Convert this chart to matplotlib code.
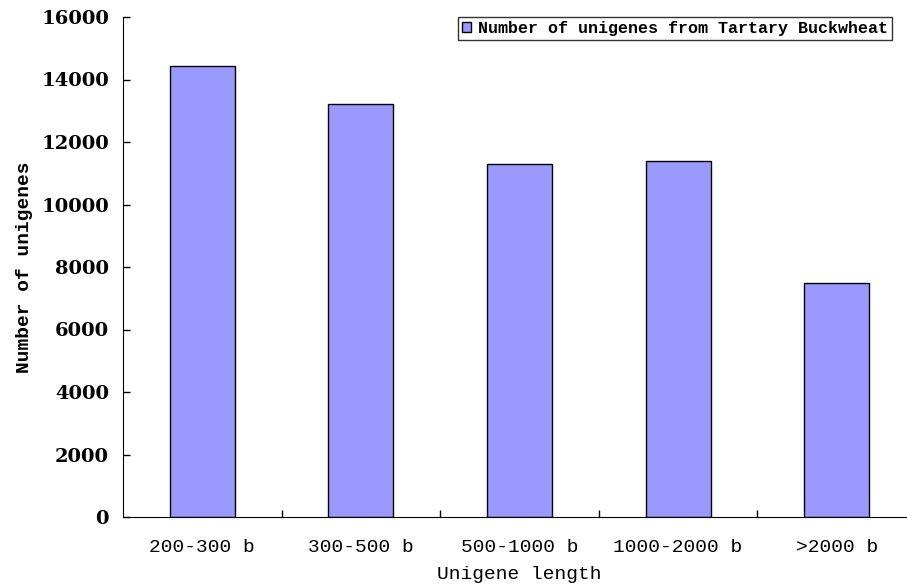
import matplotlib.pyplot as plt
import numpy as np

categories = ['200-300 b', '300-500 b', '500-1000 b', '1000-2000 b', '>2000 b']
counts = [14440, 13220, 11300, 11390, 7490]
yticks = [0, 2000, 4000, 6000, 8000, 10000, 12000, 14000, 16000]

fig = plt.figure(figsize=(9.07, 5.87), dpi=100)
ax = fig.add_axes([123/907, 70/587, 793/907, 500/587])

x = np.arange(len(categories))
ax.bar(x, counts, width=0.41, color='#9999FF', edgecolor='black', linewidth=1,
       label='Number of unigenes from Tartary Buckwheat')

ax.set_xlim(-0.5, len(categories) - 0.5)
ax.set_ylim(0, 16000)

# tick marks sit between the categories, labels at the centres
ax.set_xticks(x + 0.5, minor=False)
ax.set_xticklabels([])
ax.set_xticks(x, minor=True)
ax.set_xticklabels(categories, minor=True, family='Liberation Mono', fontsize=14)
ax.tick_params(axis='x', which='major', direction='in', length=5, width=1)
ax.tick_params(axis='x', which='minor', length=0, pad=16)

ax.set_yticks(yticks)
ax.set_yticklabels([str(t) for t in yticks], family='DejaVu Serif',
                   fontweight='bold', fontsize=14)
ax.tick_params(axis='y', direction='in', length=5, width=1, pad=10)

ax.spines['top'].set_visible(False)
ax.spines['right'].set_visible(False)

ax.set_xlabel('Unigene length', family='Liberation Mono', fontsize=14, labelpad=7)
ax.set_ylabel('Number of unigenes', family='Liberation Mono', fontweight='bold',
              fontsize=14, labelpad=6)

leg = ax.legend(loc='upper right', bbox_to_anchor=(769/793, 1.0),
                prop={'family': 'Liberation Mono', 'weight': 'bold', 'size': 12},
                frameon=True, fancybox=False, edgecolor='black',
                handlelength=0.55, handleheight=0.55, handletextpad=0.4,
                borderpad=0.25, borderaxespad=0)
leg.get_frame().set_linewidth(1)

fig.savefig('out.png', dpi=100)
